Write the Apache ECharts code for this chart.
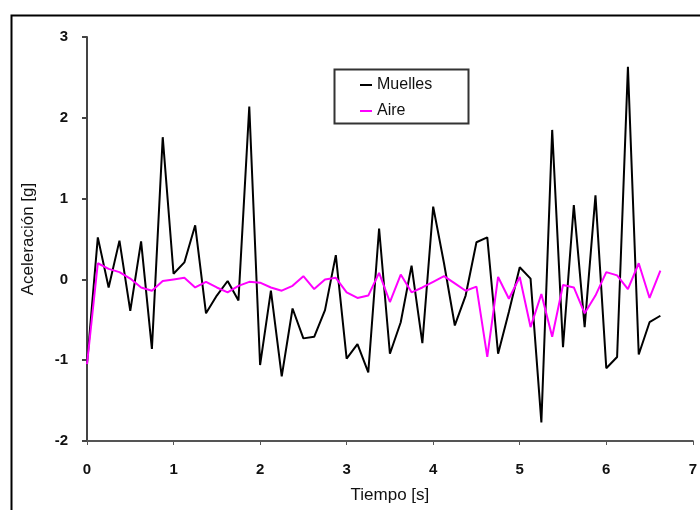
<!DOCTYPE html>
<html>
<head>
<meta charset="utf-8">
<script src="https://cdn.jsdelivr.net/npm/echarts@6/dist/echarts.min.js"></script>
<style>html,body{margin:0;padding:0;background:#fff}#c{width:700px;height:510px}</style>
</head>
<body>
<div id="c"></div>
<script>
const step = 0.125;
const muelles = [-1.05, 0.52, -0.1, 0.48, -0.39, 0.47, -0.86, 1.76, 0.07, 0.21,
  0.67, -0.42, -0.2, -0.02, -0.26, 2.14, -1.06, -0.14, -1.2, -0.36,
  -0.73, -0.71, -0.38, 0.3, -0.98, -0.8, -1.15, 0.63, -0.92, -0.53,
  0.17, -0.79, 0.9, 0.2, -0.57, -0.2, 0.46, 0.52, -0.92, -0.4,
  0.15, 0.01, -1.77, 1.85, -0.84, 0.92, -0.59, 1.04, -1.1, -0.96,
  2.63, -0.93, -0.53, -0.45];
const aire = [-1.05, 0.2, 0.13, 0.09, 0.01, -0.1, -0.14, -0.02, 0.0, 0.02,
  -0.1, -0.03, -0.1, -0.16, -0.08, -0.03, -0.04, -0.1, -0.14, -0.08,
  0.04, -0.12, 0.0, 0.02, -0.16, -0.23, -0.2, 0.08, -0.28, 0.06,
  -0.16, -0.1, -0.03, 0.04, -0.05, -0.14, -0.09, -0.96, 0.03, -0.24,
  0.03, -0.59, -0.18, -0.71, -0.07, -0.1, -0.42, -0.2, 0.09, 0.05,
  -0.12, 0.2, -0.23, 0.11];
const xTicks = ['0','1','2','3','4','5','6','7'];
const yTicks = ['-2','-1','0','1','2','3'];

const toPairs = arr => arr.map((v, i) => [i * step, v]);

const chart = echarts.init(document.getElementById('c'), null, {renderer: 'canvas'});
const font = 'Liberation Sans, Arial, sans-serif';
chart.setOption({
  animation: false,
  backgroundColor: '#fff',
  grid: {left: 87, right: 5, top: 37, bottom: 69},
  legend: {
    orient: 'vertical', left: 355, top: 72,
    itemWidth: 12, itemHeight: 2, itemGap: 10, icon: 'rect',
    textStyle: {fontFamily: font, fontSize: 16, color: '#111'},
    data: ['Muelles', 'Aire']
  },
  xAxis: [{
    type: 'value', min: 0, max: 7, interval: 1, position: 'bottom',
    name: 'Tiempo [s]', nameLocation: 'middle', nameGap: 46,
    nameTextStyle: {fontFamily: font, fontSize: 17, color: '#111'},
    axisLine: {show: false}, axisTick: {show: false}, splitLine: {show: false},
    axisLabel: {margin: 21, fontFamily: font, fontSize: 15, fontWeight: 'bold', color: '#111',
      formatter: v => xTicks[Math.round(v)]}
  }, {
    type: 'value', min: 0, max: 7, interval: 1, position: 'bottom',
    axisLine: {show: true, onZero: true, lineStyle: {color: '#555', width: 2}},
    axisTick: {show: true, length: 4, lineStyle: {color: '#555', width: 1}},
    axisLabel: {show: false}, splitLine: {show: false}
  }],
  yAxis: {
    type: 'value', min: -2, max: 3, interval: 1,
    name: 'Aceleración [g]', nameLocation: 'middle', nameGap: 50, nameRotate: 90,
    nameTextStyle: {fontFamily: font, fontSize: 17, color: '#111'},
    axisLine: {show: true, onZero: false, lineStyle: {color: '#444', width: 2}},
    axisTick: {show: true, length: 5, lineStyle: {color: '#444', width: 2}},
    axisLabel: {margin: 19, fontFamily: font, fontSize: 15, fontWeight: 'bold', color: '#111',
      formatter: v => yTicks[Math.round(v) + 2]},
    splitLine: {show: false}
  },
  series: [{
    name: 'Muelles', type: 'line', xAxisIndex: 0, data: toPairs(muelles),
    symbol: 'none', lineStyle: {color: '#000', width: 2}, itemStyle: {color: '#000'}, z: 3
  }, {
    name: 'Aire', type: 'line', xAxisIndex: 0, data: toPairs(aire),
    symbol: 'none', lineStyle: {color: '#ff00ff', width: 2}, itemStyle: {color: '#ff00ff'}, z: 4
  }],
  graphic: [{
    type: 'rect', left: 9, top: 13, shape: {width: 720, height: 520},
    style: {fill: 'none', stroke: '#000', lineWidth: 2}, silent: true
  }, {
    type: 'rect', left: 332, top: 67, shape: {width: 134, height: 54},
    style: {fill: 'none', stroke: '#333', lineWidth: 2}, silent: true, z: 10
  }]
});
</script>
</body>
</html>
